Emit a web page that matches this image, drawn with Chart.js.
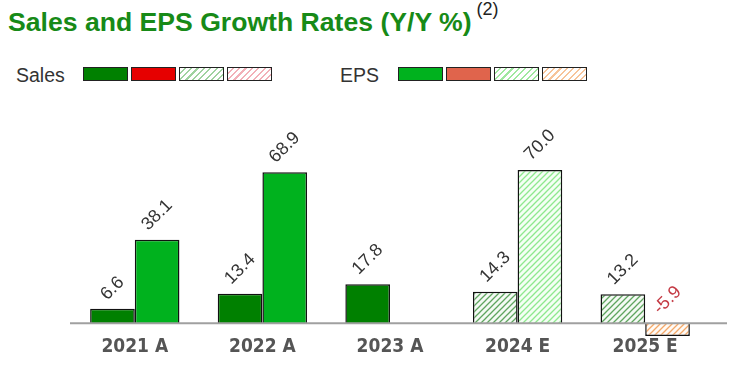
<!DOCTYPE html>
<html>
<head>
<meta charset="utf-8">
<script src="https://cdn.jsdelivr.net/npm/chart.js@4.4.0/dist/chart.umd.min.js"></script>
<style>
  html, body { margin: 0; padding: 0; background: #fff; }
  #wrap { position: relative; width: 740px; height: 388px; overflow: hidden; font-family: "Liberation Sans", Arial, sans-serif; }
  #title { position: absolute; left: 8px; top: 5px; font-weight: bold; font-size: 26.6px; color: #178a17; white-space: nowrap; }
  #title sup { font-weight: normal; font-size: 18px; color: #222; position: relative; top: -6px; margin-left: 5px; }
  .lgtxt { position: absolute; top: 64px; font-size: 19.5px; color: #333; }
  .box { position: absolute; top: 67px; width: 43px; height: 12px; border: 1.5px solid #222; }
  canvas { position: absolute; left: 0; top: 0; }
</style>
</head>
<body>
<div id="wrap">
  <div id="title">Sales and EPS Growth Rates (Y/Y %)<sup>(2)</sup></div>
  <div class="lgtxt" style="left:16px">Sales</div>
  <div class="box" style="left:83px;background:#008000"></div>
  <div class="box" style="left:131px;background:#e60000"></div>
  <div class="box" style="left:179px;background:repeating-linear-gradient(135deg,#fff 0 3px,#9fd29f 3px 4.5px)"></div>
  <div class="box" style="left:227px;background:repeating-linear-gradient(135deg,#fff 0 3px,#f2b0b8 3px 4.5px)"></div>
  <div class="lgtxt" style="left:340px">EPS</div>
  <div class="box" style="left:398px;background:#00b21e"></div>
  <div class="box" style="left:446px;background:#e0644c"></div>
  <div class="box" style="left:494px;background:repeating-linear-gradient(135deg,#fff 0 3px,#9fe89f 3px 4.5px)"></div>
  <div class="box" style="left:542px;background:repeating-linear-gradient(135deg,#fff 0 3px,#f7c49a 3px 4.5px)"></div>
  <canvas id="c" width="740" height="388"></canvas>
</div>
<script>
const categories = ["2021 A", "2022 A", "2023 A", "2024 E", "2025 E"];
const salesValues = [6.6, 13.4, 17.8, 14.3, 13.2];
const epsValues = [38.1, 68.9, null, 70.0, -5.9];
const estimateFlags = [false, false, false, true, true];

function hatch(bg, line) {
  const s = 6;
  const c = document.createElement('canvas');
  c.width = s; c.height = s;
  const g = c.getContext('2d');
  g.fillStyle = bg; g.fillRect(0, 0, s, s);
  g.strokeStyle = line; g.lineWidth = 1.3;
  g.beginPath();
  g.moveTo(0, s); g.lineTo(s, 0);
  g.moveTo(-s / 2, s / 2); g.lineTo(s / 2, -s / 2);
  g.moveTo(s / 2, s * 1.5); g.lineTo(s * 1.5, s / 2);
  g.stroke();
  return document.getElementById('c').getContext('2d').createPattern(c, 'repeat');
}
const salesEst = hatch('#f4faf4', '#5fa55f');
const epsEst = hatch('#f4fff4', '#8ee88e');
const epsEstNeg = hatch('#fffaf5', '#f4a868');

const salesColors = salesValues.map((v, i) => estimateFlags[i] ? salesEst : (v < 0 ? '#e60000' : '#008000'));
const epsColors = epsValues.map((v, i) => estimateFlags[i] ? (v < 0 ? epsEstNeg : epsEst) : (v < 0 ? '#e0644c' : '#00b21e'));

const zeroLine = {
  id: 'zeroLine',
  afterDatasetsDraw(chart) {
    const ctx = chart.ctx;
    const y = chart.scales.y.getPixelForValue(0);
    ctx.save();
    ctx.strokeStyle = '#a0a0a0';
    ctx.lineWidth = 2;
    ctx.beginPath();
    ctx.moveTo(70, y); ctx.lineTo(727, y);
    ctx.stroke();
    ctx.restore();
  }
};

const valueLabels = {
  id: 'valueLabels',
  afterDatasetsDraw(chart) {
    const ctx = chart.ctx;
    ctx.save();
    ctx.font = '18px "Liberation Sans", Arial, sans-serif';
    ctx.textAlign = 'center';
    ctx.textBaseline = 'middle';
    chart.data.datasets.forEach((ds, di) => {
      const meta = chart.getDatasetMeta(di);
      meta.data.forEach((el, i) => {
        const v = ds.data[i];
        if (v === null || v === undefined) return;
        const txt = v.toFixed(1);
        const w = ctx.measureText(txt).width;
        const top = Math.min(el.y, el.base);
        const cx = el.x;
        const cy = top - 9 - w * 0.45;
        ctx.save();
        ctx.translate(cx, cy);
        ctx.rotate(-45 * Math.PI / 180);
        ctx.fillStyle = v < 0 ? '#c43a44' : '#333';
        ctx.fillText(txt, 0, 0);
        ctx.restore();
      });
    });
    ctx.restore();
  }
};

new Chart(document.getElementById('c'), {
  type: 'bar',
  data: {
    labels: categories,
    datasets: [
      { label: 'Sales', data: salesValues, backgroundColor: salesColors, borderColor: '#111', borderWidth: 1.5 },
      { label: 'EPS', data: epsValues, backgroundColor: epsColors, borderColor: '#111', borderWidth: 1.5 }
    ]
  },
  options: {
    responsive: false,
    animation: false,
    events: [],
    layout: { padding: { left: 71, right: 31, top: 148, bottom: 32 } },
    plugins: { legend: { display: false }, tooltip: { enabled: false } },
    datasets: { bar: { categoryPercentage: 0.7, barPercentage: 1.0 } },
    scales: {
      x: {
        grid: { display: false, drawTicks: false },
        border: { display: false },
        ticks: { color: '#555', font: { family: '"DejaVu Sans Condensed", "Liberation Sans Narrow", "Liberation Sans", Arial', size: 19, weight: 'bold' }, padding: -2, maxRotation: 0 }
      },
      y: {
        display: false,
        min: -6.4,
        max: 80
      }
    }
  },
  plugins: [zeroLine, valueLabels]
});
</script>
</body>
</html>
